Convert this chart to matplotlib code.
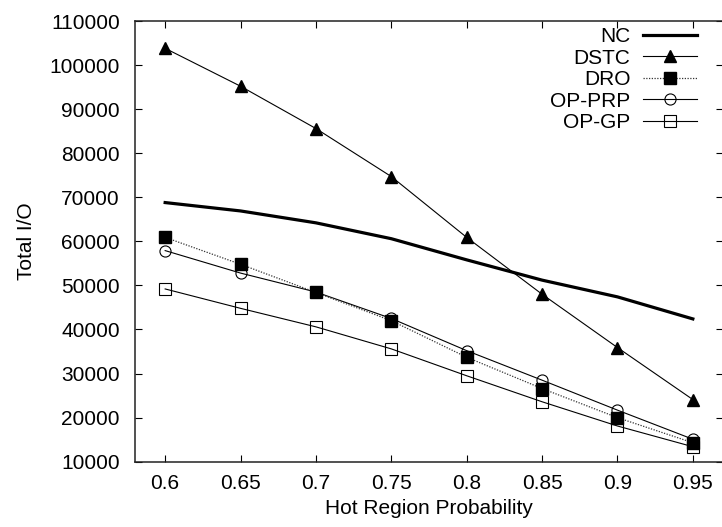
import matplotlib
matplotlib.use("Agg")
import matplotlib.pyplot as plt

# Hot region probability (x) and total I/O for each clustering scheme
prob = [0.6, 0.65, 0.7, 0.75, 0.8, 0.85, 0.9, 0.95]
nc = [68800, 66900, 64200, 60600, 55800, 51200, 47400, 42400]
dstc = [103800, 95200, 85600, 74700, 60900, 48000, 35900, 24100]
dro = [60900, 54800, 48400, 42000, 33700, 26600, 20000, 14300]
op_prp = [57900, 52800, 48500, 42500, 35200, 28500, 21700, 15100]
op_gp = [49200, 44800, 40600, 35600, 29500, 23600, 18100, 13400]

x_ticks = [0.6, 0.65, 0.7, 0.75, 0.8, 0.85, 0.9, 0.95]
x_tick_labels = ["0.6", "0.65", "0.7", "0.75", "0.8", "0.85", "0.9", "0.95"]
y_ticks = list(range(10000, 110001, 10000))
y_tick_labels = [str(v) for v in y_ticks]

plt.rcParams["font.family"] = ["Liberation Sans", "DejaVu Sans"]
FS = 15

W, H = 722, 527
fig = plt.figure(figsize=(W / 100, H / 100), dpi=100)
left_px, right_px, top_px, bottom_px = 135, 723, 21, 461.7
ax = fig.add_axes([left_px / W, 1 - bottom_px / H,
                   (right_px - left_px) / W, (bottom_px - top_px) / H])

ax.plot(prob, nc, color="black", lw=2.3, label="NC")
ax.plot(prob, dstc, color="black", lw=0.8, marker="^", ms=8,
        mfc="black", mec="black", label="DSTC")
ax.plot(prob, op_prp, color="black", lw=0.8, marker="o", ms=8,
        mfc="none", mec="black", mew=0.8, label="OP-PRP")
ax.plot(prob, op_gp, color="black", lw=0.8, marker="s", ms=8.4,
        mfc="none", mec="black", mew=0.8, label="OP-GP")
ax.plot(prob, dro, color="#333333", lw=0.9, ls=(0, (1, 1.2)), marker="s",
        ms=8.4, mfc="black", mec="black", label="DRO")

ax.set_xlim(0.58, 0.97)
ax.set_ylim(10000, 110000)
ax.set_xticks(x_ticks)
ax.set_xticklabels(x_tick_labels, fontsize=FS)
ax.set_yticks(y_ticks)
ax.set_yticklabels(y_tick_labels, fontsize=FS)
ax.tick_params(direction="in", top=True, right=True, length=5, width=0.8,
               color="black")
ax.tick_params(axis="x", pad=9)
ax.tick_params(axis="y", pad=11)
for s in ax.spines.values():
    s.set_linewidth(1.1)
    s.set_color("#222222")

ax.set_xlabel("Hot Region Probability", fontsize=FS, labelpad=4)
ax.set_ylabel("Total I/O", fontsize=FS, labelpad=9.5)

handles, labels = ax.get_legend_handles_labels()
order = ["NC", "DSTC", "DRO", "OP-PRP", "OP-GP"]
hmap = dict(zip(labels, handles))
leg = ax.legend([hmap[k] for k in order], order, loc="upper right",
                bbox_to_anchor=(0.956, 0.986), frameon=False, markerfirst=False,
                fontsize=FS, handlelength=2.6, handletextpad=0.6,
                labelspacing=0.12, borderpad=0, borderaxespad=0, numpoints=1)

fig.savefig("out.png", dpi=100)
